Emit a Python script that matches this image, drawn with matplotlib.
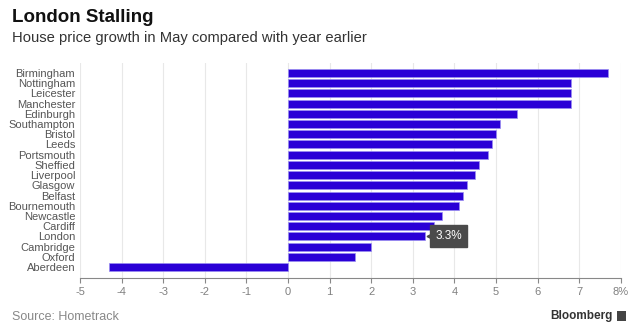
import numpy as np
import matplotlib.pyplot as plt
from matplotlib.patches import Rectangle

plt.rcParams['font.family'] = ['Liberation Sans', 'DejaVu Sans']

cities = ["Birmingham", "Nottingham", "Leicester", "Manchester", "Edinburgh",
          "Southampton", "Bristol", "Leeds", "Portsmouth", "Sheffied",
          "Liverpool", "Glasgow", "Belfast", "Bournemouth", "Newcastle",
          "Cardiff", "London", "Cambridge", "Oxford", "Aberdeen"]
growth = [7.7, 6.8, 6.8, 6.8, 5.5, 5.1, 5.0, 4.9, 4.8, 4.6,
          4.5, 4.3, 4.2, 4.1, 3.7, 3.5, 3.3, 2.0, 1.6, -4.3]
xticks = list(range(-5, 9))
xlabels = [str(t) for t in xticks[:-1]] + ["8%"]

bar_color = "#2a00d6"
text_gray = "#555555"

fig = plt.figure(figsize=(6.4, 3.35), dpi=100)
ax = fig.add_axes([0.125, 0.170, 0.845, 0.642])

ypos = np.arange(len(cities))[::-1]
ax.barh(ypos, growth, height=0.78, color=bar_color, edgecolor="#9a8ef2",
        linewidth=0.5, zorder=3)

ax.set_xlim(-5, 8)
ax.set_ylim(-1.08, len(cities) - 0.02)
ax.set_yticks(ypos)
ax.set_yticklabels(cities, fontsize=8, color=text_gray)
ax.set_xticks(xticks)
ax.set_xticklabels(xlabels, fontsize=8, color="#808080")
ax.tick_params(axis="y", length=0, pad=3.5)
ax.tick_params(axis="x", length=3.5, width=0.8, color="#888888", pad=3)

for s in ["top", "right", "left"]:
    ax.spines[s].set_visible(False)
ax.spines["bottom"].set_color("#888888")
ax.spines["bottom"].set_linewidth(0.8)

for t in xticks:
    ax.axvline(t, color="#e8e8e8", linewidth=0.8, zorder=0)

# value tag for London
i_lon = cities.index("London")
v_lon = growth[i_lon]
ax.text(v_lon + 0.24, ypos[i_lon], f"{v_lon}%", fontsize=8.5, color="white",
        ha="left", va="center", zorder=5,
        bbox=dict(boxstyle="square,pad=0.42", fc="#4a4a4a", ec="#4a4a4a"))
ax.plot(v_lon + 0.08, ypos[i_lon], marker="<", markersize=3.5,
        color="#4a4a4a", zorder=5)

fig.text(12 / 640, 1 - 18 / 335, "London Stalling", fontsize=13.5,
         fontweight="bold", color="#111111", va="center", ha="left")
fig.text(12 / 640, 1 - 38 / 335,
         "House price growth in May compared with year earlier",
         fontsize=10.6, color="#333333", va="center", ha="left")
fig.text(12 / 640, 1 - 317 / 335, "Source: Hometrack", fontsize=9,
         color="#888888", va="center", ha="left")
fig.text(613 / 640, 1 - 316 / 335, "Bloomberg", fontsize=8.5,
         fontweight="bold", color="#333333", va="center", ha="right")
fig.patches.append(Rectangle((617 / 640, 1 - 321 / 335), 9 / 640, 10 / 335,
                             transform=fig.transFigure, fc="#444444",
                             ec="none"))

fig.savefig("out.png", dpi=100)
